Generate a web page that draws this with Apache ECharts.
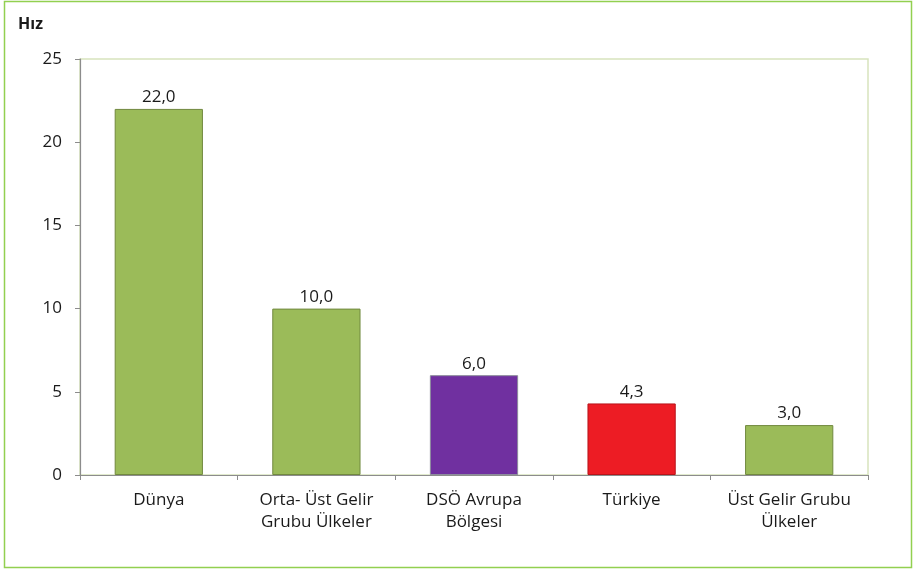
<!DOCTYPE html>
<html><head><meta charset="utf-8">
<script src="https://cdn.jsdelivr.net/npm/echarts@6/dist/echarts.min.js"></script>
<style>html,body{margin:0;padding:0;background:#fff}#c{width:915px;height:570px}</style>
</head><body><div id="c"></div>
<script>
const categories = ['Dünya', 'Orta- Üst Gelir\nGrubu Ülkeler', 'DSÖ Avrupa\nBölgesi', 'Türkiye', 'Üst Gelir Grubu\nÜlkeler'];
const values = [22.0, 10.0, 6.0, 4.3, 3.0];
const barColors = ['#9BBB59', '#9BBB59', '#7030A0', '#ED1C24', '#9BBB59'];
const barBorders = ['#71893F', '#71893F', '#8C8C9C', '#B8141A', '#71893F'];
const yTicks = [0, 5, 10, 15, 20, 25];
const FONT = '"Open Sans", "Noto Sans", sans-serif';
const chart = echarts.init(document.getElementById('c'), null, {renderer: 'canvas'});
chart.setOption({
  animation: false,
  textStyle: {fontFamily: FONT},
  graphic: [
    {type: 'rect', shape: {x: 4.5, y: 1.5, width: 907, height: 566}, style: {fill: 'none', stroke: '#92D050', lineWidth: 1.5}, z: -1},
    {type: 'text', left: 18, top: 16, style: {text: 'Hız', font: 'bold 16px ' + FONT, fill: '#1a1a1a'}}
  ],
  grid: {left: 80, top: 59, right: 47, bottom: 95, show: true, borderColor: '#D7E4BD', borderWidth: 1.5, backgroundColor: 'transparent'},
  xAxis: {
    type: 'category', data: categories,
    axisLine: {lineStyle: {color: '#8C8C8C', width: 1.2}},
    axisTick: {show: true, alignWithLabel: false, length: 5, lineStyle: {color: '#8C8C8C'}},
    axisLabel: {color: '#1a1a1a', fontSize: 17, lineHeight: 22, margin: 14, interval: 0}
  },
  yAxis: {
    type: 'value', min: 0, max: 25, interval: 5,
    axisLine: {show: true, lineStyle: {color: '#8C8C8C', width: 1.2}},
    axisTick: {show: true, length: 5, lineStyle: {color: '#8C8C8C'}},
    splitLine: {show: false},
    axisLabel: {color: '#1a1a1a', fontSize: 17, margin: 18}
  },
  series: [{
    type: 'bar', barWidth: '56%',
    data: values.map((v, i) => ({value: v, itemStyle: {color: barColors[i], borderColor: barBorders[i], borderWidth: 1}})),
    label: {show: true, position: 'top', distance: 3, color: '#1a1a1a', fontSize: 17,
      formatter: p => p.value.toFixed(1).replace('.', ',')}
  }]
});
</script></body></html>
